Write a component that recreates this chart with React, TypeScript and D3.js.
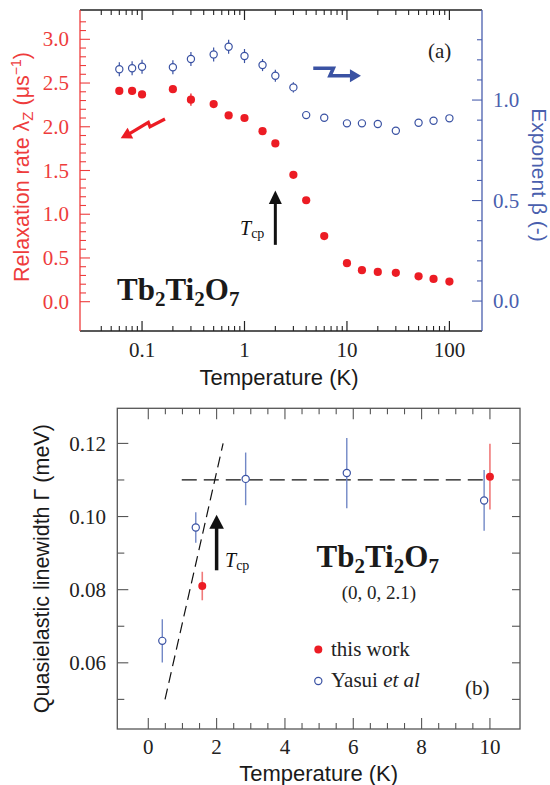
import React from 'react';
import * as d3 from 'd3';

const W = 550;
const H = 785;
const SERIF = '"Liberation Serif", "DejaVu Serif", serif';
const SANS = '"Liberation Sans", Arial, sans-serif';
const RED = '#ec1c24';
const RED_AX = '#ee3c3c';
const RED_ERR = '#f07a7a';
const BLUE = '#3a52a3';
const BLUE_AX = '#4a5fae';
const BLUE_ERR = '#7288c6';
const GRAY = '#555555';

// ---------- Panel (a) data ----------
const tempA = [0.06, 0.08, 0.1, 0.2, 0.3, 0.5, 0.7, 1, 1.5, 2, 3, 4, 6, 10, 14, 20, 30, 50, 70, 100];
const lambdaZ = [2.41, 2.41, 2.37, 2.43, 2.31, 2.26, 2.13, 2.1, 1.95, 1.81, 1.45, 1.16, 0.75, 0.44, 0.36, 0.34, 0.33, 0.29, 0.26, 0.23];
const lambdaErr = [0.04, 0.04, 0.04, 0.04, 0.07, 0.03, 0.03, 0.03, 0.02, 0.02, 0.02, 0.02, 0.02, 0.01, 0.01, 0.01, 0.01, 0.01, 0.01, 0.01];
const beta = [1.153, 1.158, 1.166, 1.163, 1.204, 1.227, 1.265, 1.219, 1.174, 1.121, 1.063, 0.925, 0.912, 0.884, 0.884, 0.881, 0.847, 0.887, 0.897, 0.909];
const betaErr = [0.035, 0.035, 0.035, 0.035, 0.035, 0.035, 0.035, 0.035, 0.03, 0.03, 0.025, 0.01, 0.01, 0.01, 0.01, 0.01, 0.01, 0.01, 0.01, 0.01];
const xTicksA = [0.1, 1, 10, 100];
const yTicksL = [0, 0.5, 1, 1.5, 2, 2.5, 3];
const yTicksR = [0, 0.5, 1];
// annotation arrows (data coords)
const redArrowT = [0.1675, 0.1196, 0.1151, 0.0763, 0.0619];
const redArrowL = [2.089, 2.0, 2.051, 1.925, 1.868];
const blueArrowT = [4.69, 7.36, 6.83, 10.7, 13.7];
const blueArrowB = [1.158, 1.158, 1.121, 1.121, 1.121];
const tcpA = { t: 2, from: 0.65, to: 1.27 };

// ---------- Panel (b) data ----------
const tempYasui = [0.41, 1.39, 2.85, 5.81, 9.83];
const gammaYasui = [0.066, 0.097, 0.1103, 0.1119, 0.1044];
const gammaYasuiErr = [0.0059, 0.0042, 0.0072, 0.0096, 0.0083];
const tempThis = [1.58, 10.0];
const gammaThis = [0.081, 0.1109];
const gammaThisErr = [0.0039, 0.009];
const plateauT = [0.98, 9.8];
const plateauG = [0.11, 0.11];
const slopeT = [0.49, 2.19];
const slopeG = [0.05, 0.12];
const xTicksB = [0, 2, 4, 6, 8, 10];
const yTicksB = [0.06, 0.08, 0.1, 0.12];
const tcpB = { t: 2, from: 0.0853, to: 0.1005 };

function Arrow({ pts, color, width, headLen, headHalf }: any) {
  const n = pts.length;
  const [tx, ty] = pts[n - 1];
  const [px, py] = pts[n - 2];
  const dx = tx - px, dy = ty - py;
  const L = Math.hypot(dx, dy);
  const ux = dx / L, uy = dy / L;
  const bx = tx - ux * headLen, by = ty - uy * headLen;
  const nx = -uy, ny = ux;
  const line = pts.slice(0, n - 1).concat([[bx + ux * 1, by + uy * 1]]);
  return (
    <g>
      <path d={d3.line()(line as any) as string} fill="none" stroke={color} strokeWidth={width} strokeLinejoin="miter" />
      <path d={`M${tx},${ty}L${bx + nx * headHalf},${by + ny * headHalf}L${bx - nx * headHalf},${by - ny * headHalf}Z`} fill={color} />
    </g>
  );
}

function Formula({ x, y, size }: any) {
  const s = size * 0.68;
  const d = size * 0.2;
  return (
    <text x={x} y={y} fontFamily={SERIF} fontWeight="bold" fontSize={size} fill="#1a1a1a">
      Tb<tspan fontSize={s} dy={d}>2</tspan>
      <tspan dy={-d}>Ti</tspan>
      <tspan fontSize={s} dy={d}>2</tspan>
      <tspan dy={-d}>O</tspan>
      <tspan fontSize={s} dy={d}>7</tspan>
    </text>
  );
}

export default function App() {
  // Panel (a) scales
  const aL = 80, aR = 482, aT = 10, aB = 331;
  const xA = d3.scaleLog().domain([0.0248, 208]).range([aL, aR]);
  const yL = d3.scaleLinear().domain([-0.335, 3.335]).range([aB, aT]);
  const yR = d3.scaleLinear().domain([-0.149, 1.448]).range([aB, aT]);

  const minorA: number[] = [];
  [0.01, 0.1, 1, 10].forEach((dec) => {
    for (let k = 2; k <= 9; k++) {
      const v = k * dec;
      if (v >= 0.04 && v <= 90) minorA.push(v);
    }
  });
  const leftTicks = d3.range(0, 33).map((i) => i / 10);
  const rightTicks = d3.range(0, 14).map((i) => i / 10);

  // Panel (b) scales
  const bL = 117.3, bR = 520, bT = 408.3, bB = 729;
  const xB = d3.scaleLinear().domain([-0.907, 10.88]).range([bL, bR]);
  const yB = d3.scaleLinear().domain([0.0419, 0.1296]).range([bB, bT]);
  const xMinorB = d3.range(0, 21).map((i) => i * 0.5);
  const yMinorB = d3.range(5, 13).map((i) => i / 100);

  const fmt1 = d3.format('.1f');
  const fmt2 = d3.format('.2f');

  const redPts = redArrowT.map((t, i) => [xA(t), yL(redArrowL[i])]);
  const bluePts = blueArrowT.map((t, i) => [xA(t), yR(blueArrowB[i])]);

  return (
    <svg width={W} height={H} style={{ position: 'absolute', left: 0, top: 0, background: '#fff' }}>
      {/* ================= Panel (a) ================= */}
      <g>
        {/* frame */}
        <line x1={aL} x2={aR} y1={aT} y2={aT} stroke="#222" strokeWidth={1.3} />
        <line x1={aL} x2={aR} y1={aB} y2={aB} stroke="#222" strokeWidth={1.3} />
        <line x1={aL} x2={aL} y1={aT} y2={aB} stroke={RED_AX} strokeWidth={1.3} />
        <line x1={aR} x2={aR} y1={aT} y2={aB} stroke={BLUE_AX} strokeWidth={1.3} />
        {/* x ticks */}
        {xTicksA.map((v) => (
          <g key={'xa' + v}>
            <line x1={xA(v)} x2={xA(v)} y1={aB} y2={aB - 10} stroke="#222" strokeWidth={1.2} />
            <line x1={xA(v)} x2={xA(v)} y1={aT} y2={aT + 10} stroke="#222" strokeWidth={1.2} />
            <text x={xA(v)} y={356.5} textAnchor="middle" fontFamily={SERIF} fontSize={21} fill="#222">{String(v)}</text>
          </g>
        ))}
        {minorA.map((v) => (
          <g key={'xam' + v}>
            <line x1={xA(v)} x2={xA(v)} y1={aB} y2={aB - 5} stroke="#222" strokeWidth={1.1} />
            <line x1={xA(v)} x2={xA(v)} y1={aT} y2={aT + 5} stroke="#222" strokeWidth={1.1} />
          </g>
        ))}
        {/* left ticks */}
        {leftTicks.map((v, i) => (
          <line key={'yl' + i} x1={aL} x2={aL + (i % 5 === 0 ? 10 : 6)} y1={yL(v)} y2={yL(v)} stroke={RED_AX} strokeWidth={1.1} />
        ))}
        {yTicksL.map((v) => (
          <text key={'ylt' + v} x={69} y={yL(v)} dy="0.34em" textAnchor="end" fontFamily={SERIF} fontSize={21} fill={RED_AX}>{fmt1(v)}</text>
        ))}
        {/* right ticks */}
        {rightTicks.map((v, i) => (
          <line key={'yr' + i} x1={aR} x2={aR - (i % 5 === 0 ? 10 : 5)} y1={yR(v)} y2={yR(v)} stroke={BLUE_AX} strokeWidth={1.1} />
        ))}
        {yTicksR.map((v) => (
          <text key={'yrt' + v} x={493} y={yR(v)} dy="0.34em" textAnchor="start" fontFamily={SERIF} fontSize={21} fill={BLUE_AX}>{fmt1(v)}</text>
        ))}
        {/* axis titles */}
        <text x={(aL + aR) / 2 - 2} y={385} textAnchor="middle" fontFamily={SANS} fontSize={22} fill="#1a1a1a">Temperature (K)</text>
        <text transform={`translate(29,167) rotate(-90)`} textAnchor="middle" fontFamily={SANS} fontSize={21.5} fill={RED_AX}>
          Relaxation rate λ<tspan fontSize={15} dy={4}>Z</tspan><tspan dy={-4}> (μs</tspan><tspan fontSize={14} dy={-8}>−1</tspan><tspan dy={8}>)</tspan>
        </text>
        <text transform={`translate(532,175) rotate(90)`} textAnchor="middle" fontFamily={SANS} fontSize={21} fill={BLUE_AX}>Exponent β (-)</text>

        {/* blue data (beta) */}
        {tempA.map((t, i) => (
          <g key={'b' + i}>
            <line x1={xA(t)} x2={xA(t)} y1={yR(beta[i] - betaErr[i])} y2={yR(beta[i] + betaErr[i])} stroke={BLUE} strokeWidth={1.2} />
            <circle cx={xA(t)} cy={yR(beta[i])} r={3.6} fill="#fff" stroke={BLUE} strokeWidth={1.2} />
          </g>
        ))}
        {/* red data (lambda) */}
        {tempA.map((t, i) => (
          <g key={'r' + i}>
            <line x1={xA(t)} x2={xA(t)} y1={yL(lambdaZ[i] - lambdaErr[i])} y2={yL(lambdaZ[i] + lambdaErr[i])} stroke={RED} strokeWidth={1.3} />
            <circle cx={xA(t)} cy={yL(lambdaZ[i])} r={4.1} fill={RED} />
          </g>
        ))}

        {/* annotation arrows */}
        <Arrow pts={redPts} color={RED} width={3.2} headLen={11} headHalf={6} />
        <Arrow pts={bluePts} color={BLUE} width={3.6} headLen={11} headHalf={6.5} />
        <line x1={xA(tcpA.t)} x2={xA(tcpA.t)} y1={yL(tcpA.from)} y2={yL(tcpA.to) + 12} stroke="#111" strokeWidth={3} />
        <path d={`M${xA(tcpA.t)},${yL(tcpA.to)}l6.5,13.5l-13,0Z`} fill="#111" />
        <text x={240} y={235} fontFamily={SERIF} fontSize={20} fill="#111">
          <tspan fontStyle="italic">T</tspan><tspan fontSize={14} dy={3}>cp</tspan>
        </text>

        <text x={428} y={58} fontFamily={SERIF} fontSize={21} fill="#222">(a)</text>
        <Formula x={117} y={300} size={31} />
      </g>

      {/* ================= Panel (b) ================= */}
      <g>
        <rect x={bL} y={bT} width={bR - bL} height={bB - bT} fill="none" stroke={GRAY} strokeWidth={1.3} />
        {xMinorB.map((v, i) => {
          const major = i % 4 === 0;
          const len = major ? 11 : 6;
          return (
            <g key={'xb' + i}>
              <line x1={xB(v)} x2={xB(v)} y1={bB} y2={bB - len} stroke={GRAY} strokeWidth={1.1} />
              <line x1={xB(v)} x2={xB(v)} y1={bT} y2={bT + len} stroke={GRAY} strokeWidth={1.1} />
            </g>
          );
        })}
        {xTicksB.map((v) => (
          <text key={'xbt' + v} x={xB(v)} y={754} textAnchor="middle" fontFamily={SERIF} fontSize={21} fill="#222">{String(v)}</text>
        ))}
        {yMinorB.map((v, i) => {
          const major = Math.round(v * 100) % 2 === 0;
          return (
            <g key={'yb' + i}>
              <line x1={bL} x2={bL + (major ? 11 : 7)} y1={yB(v)} y2={yB(v)} stroke={GRAY} strokeWidth={1.1} />
              <line x1={bR} x2={bR - 8} y1={yB(v)} y2={yB(v)} stroke={GRAY} strokeWidth={1.1} />
            </g>
          );
        })}
        {yTicksB.map((v) => (
          <text key={'ybt' + v} x={106} y={yB(v)} dy="0.34em" textAnchor="end" fontFamily={SERIF} fontSize={21} fill="#222">{fmt2(v)}</text>
        ))}
        <text x={(bL + bR) / 2} y={781} textAnchor="middle" fontFamily={SANS} fontSize={22} fill="#1a1a1a">Temperature (K)</text>
        <text transform={`translate(49,${(bT + bB) / 2}) rotate(-90)`} textAnchor="middle" fontFamily={SANS} fontSize={21.5} fill="#1a1a1a">Quasielastic linewidth Γ (meV)</text>

        {/* dashed guide lines */}
        <path d={d3.line()(plateauT.map((t, i) => [xB(t), yB(plateauG[i])]) as any) as string} stroke="#111" strokeWidth={1.2} strokeDasharray="15,7" fill="none" />
        <path d={d3.line()(slopeT.map((t, i) => [xB(t), yB(slopeG[i])]) as any) as string} stroke="#111" strokeWidth={1.2} strokeDasharray="11,6" fill="none" />

        {/* Yasui data */}
        {tempYasui.map((t, i) => (
          <g key={'ya' + i}>
            <line x1={xB(t)} x2={xB(t)} y1={yB(gammaYasui[i] - gammaYasuiErr[i])} y2={yB(gammaYasui[i] + gammaYasuiErr[i])} stroke={BLUE_ERR} strokeWidth={1.4} />
            <circle cx={xB(t)} cy={yB(gammaYasui[i])} r={3.6} fill="#fff" stroke={BLUE} strokeWidth={1.2} />
          </g>
        ))}
        {/* this work */}
        {tempThis.map((t, i) => (
          <g key={'tw' + i}>
            <line x1={xB(t)} x2={xB(t)} y1={yB(gammaThis[i] - gammaThisErr[i])} y2={yB(gammaThis[i] + gammaThisErr[i])} stroke={RED_ERR} strokeWidth={1.6} />
            <circle cx={xB(t)} cy={yB(gammaThis[i])} r={4} fill={RED} />
          </g>
        ))}

        {/* Tcp arrow */}
        <line x1={xB(tcpB.t)} x2={xB(tcpB.t)} y1={yB(tcpB.from)} y2={yB(tcpB.to) + 12} stroke="#111" strokeWidth={3.5} />
        <path d={`M${xB(tcpB.t)},${yB(tcpB.to)}l7.3,14l-14.6,0Z`} fill="#111" />
        <text x={225} y={566.5} fontFamily={SERIF} fontSize={20} fill="#111">
          <tspan fontStyle="italic">T</tspan><tspan fontSize={14} dy={3}>cp</tspan>
        </text>

        <Formula x={316.5} y={566.5} size={31} />
        <text x={379} y={599} textAnchor="middle" fontFamily={SERIF} fontSize={19} fill="#222">(0, 0, 2.1)</text>

        {/* legend */}
        <circle cx={318.3} cy={649.5} r={4} fill={RED} />
        <text x={331} y={656} fontFamily={SERIF} fontSize={21} fill="#222">this work</text>
        <circle cx={318.3} cy={681} r={3.6} fill="#fff" stroke={BLUE} strokeWidth={1.2} />
        <text x={331} y={687} fontFamily={SERIF} fontSize={21} fill="#222">Yasui <tspan fontStyle="italic">et al</tspan></text>
        <text x={465} y={695} fontFamily={SERIF} fontSize={21} fill="#222">(b)</text>
      </g>
    </svg>
  );
}
